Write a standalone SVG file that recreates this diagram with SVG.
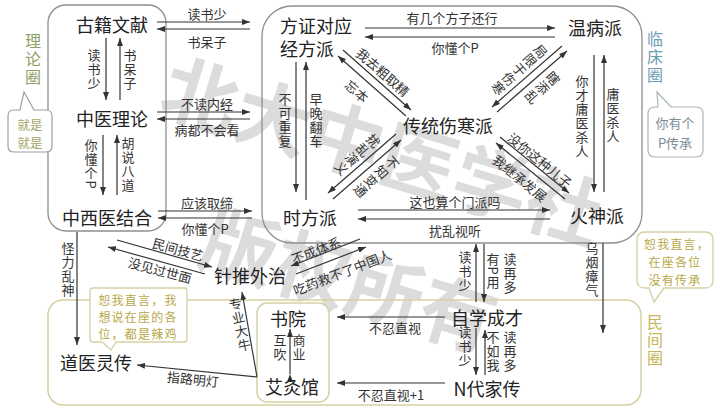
<svg xmlns="http://www.w3.org/2000/svg" width="720" height="408" viewBox="0 0 720 408">
<defs>
<marker id="a" viewBox="0 0 8 6" refX="8" refY="3" markerWidth="8" markerHeight="6" orient="auto" markerUnits="userSpaceOnUse"><path d="M0,0 L8,3 L0,6 Z" fill="#333"/></marker>
<style>
text{font-family:"Noto Sans CJK SC","Noto Sans",sans-serif;dominant-baseline:central;}
.n{font-size:18px;fill:#222;text-anchor:middle;}
.l{font-size:13px;fill:#333;text-anchor:middle;}
.v{font-size:13px;fill:#333;text-anchor:middle;writing-mode:vertical-rl;letter-spacing:1px;}
.ln{stroke:#333;stroke-width:1.2;fill:none;marker-end:url(#a);}
.box{fill:none;stroke:#8f8f8f;stroke-width:1.3;}
.fbox{fill:none;stroke:#d6cfa2;stroke-width:1.5;}
.wm{font-size:76px;font-weight:bold;fill:#dcdcdc;}
.bt{font-size:12px;fill:#b8a745;text-anchor:middle;letter-spacing:1.2px;}
</style>
</defs>
<rect width="720" height="408" fill="#fff"/>
<g id="watermark">
<text class="wm" transform="translate(166,80) rotate(17)">北大中医学社</text>
<text class="wm" transform="translate(205,232) rotate(17)">版权所有</text>
</g>
<g id="areas">
<rect class="box" x="48" y="5" width="118" height="226" rx="18"/>
<rect class="box" x="262" y="6" width="380" height="237" rx="30"/>
<rect class="fbox" x="48" y="300" width="593" height="105" rx="15"/>
<rect class="fbox" x="257" y="303" width="72" height="99" rx="10"/>
<text x="33" y="60" style="font-size:16px;fill:#8fa067;writing-mode:vertical-rl;text-anchor:middle;letter-spacing:2px">理论圈</text>
<text x="655" y="58" style="font-size:16px;fill:#6e9eb2;writing-mode:vertical-rl;text-anchor:middle;letter-spacing:2px">临床圈</text>
<text x="655" y="341" style="font-size:16px;fill:#c6b55a;writing-mode:vertical-rl;text-anchor:middle;letter-spacing:2px">民间圈</text>
</g>
<g id="bubbles">
<path d="M14,110 H20 L24,92 L34,110 H46 Q52,110 52,116 V146 Q52,152 46,152 H14 Q8,152 8,146 V116 Q8,110 14,110 Z" fill="#fff" stroke="#a0a0a0" stroke-width="1.2"/>
<text x="30" y="124" style="font-size:12.5px;fill:#a3a566;text-anchor:middle">就是</text>
<text x="30" y="142" style="font-size:12.5px;fill:#a3a566;text-anchor:middle">就是</text>
<path d="M655,107 H658 L657,92 L671,107 H696 Q703,107 703,114 V150 Q703,157 696,157 H655 Q648,157 648,150 V114 Q648,107 655,107 Z" fill="#fff" stroke="#a9b4b9" stroke-width="1.2"/>
<text x="675" y="122" style="font-size:13px;fill:#7b8d97;text-anchor:middle">你有个</text>
<text x="675" y="142" style="font-size:13px;fill:#7b8d97;text-anchor:middle">P传承</text>
<path d="M645,232 H705 Q713,232 713,240 V280 Q713,288 705,288 H664 L654,302 L649,288 H645 Q637,288 637,280 V240 Q637,232 645,232 Z" fill="#fff" stroke="#d6cfa2" stroke-width="1.3"/>
<text class="bt" x="677" y="243">恕我直言，</text>
<text class="bt" x="675" y="261">在座各位</text>
<text class="bt" x="675" y="279">没有传承</text>
<path d="M93,288 H184 Q187,288 187,291 V339 Q187,342 184,342 H116 L111,350 L102,342 H93 Q90,342 90,339 V291 Q90,288 93,288 Z" fill="#fff" stroke="#d6cfa2" stroke-width="1.3"/>
<text class="bt" x="138" y="299">恕我直言，我</text>
<text class="bt" x="138" y="316">想说在座的各</text>
<text class="bt" x="138" y="333">位，都是辣鸡</text>
</g>
<g id="connectors">
<line class="ln" x1="157" y1="22" x2="250" y2="22"/><text class="l" x="207" y="13">读书少</text>
<line class="ln" x1="250" y1="29" x2="157" y2="29"/><text class="l" x="207" y="41">书呆子</text>
<line class="ln" x1="106" y1="38" x2="106" y2="100"/><text class="v" x="94" y="70">读书少</text>
<line class="ln" x1="120" y1="100" x2="120" y2="38"/><text class="v" x="130" y="70">书呆子</text>
<line class="ln" x1="157" y1="112" x2="250" y2="112"/><text class="l" x="207" y="103">不读内经</text>
<line class="ln" x1="250" y1="119" x2="157" y2="119"/><text class="l" x="207" y="129">病都不会看</text>
<line class="ln" x1="103" y1="135" x2="103" y2="195"/><text class="v" x="91" y="164">你懂个P</text>
<line class="ln" x1="117" y1="195" x2="117" y2="135"/><text class="v" x="128" y="165">胡说八道</text>
<line class="ln" x1="158" y1="211" x2="252" y2="211"/><text class="l" x="207" y="202">应该取缔</text>
<line class="ln" x1="252" y1="218" x2="158" y2="218"/><text class="l" x="205" y="228">你懂个P</text>
<line class="ln" x1="77" y1="232" x2="77" y2="345"/><text class="v" x="68" y="270">怪力乱神</text>
<line class="ln" x1="117" y1="240" x2="212" y2="267"/><text class="l" transform="translate(178,249) rotate(15)">民间技艺</text>
<line class="ln" x1="205" y1="274" x2="108" y2="247"/><text class="l" transform="translate(160,270) rotate(15)">没见过世面</text>
<line class="ln" x1="360" y1="239" x2="291" y2="266"/><text class="l" transform="translate(316,250) rotate(-21)">不成体系</text>
<line class="ln" x1="296" y1="274" x2="366" y2="247"/><text class="l" transform="translate(342,272) rotate(-21)">吃药救不了中国人</text>
<line class="ln" x1="365" y1="28" x2="555" y2="28"/><text class="l" x="452" y="17">有几个方子还行</text>
<line class="ln" x1="555" y1="37" x2="365" y2="37"/><text class="l" x="455" y="47">你懂个P</text>
<line class="ln" x1="343" y1="50" x2="411" y2="110"/><text class="l" transform="translate(383,72) rotate(41)">我去粗取精</text>
<line class="ln" x1="406" y1="116" x2="338" y2="56"/><text class="l" transform="translate(357,91) rotate(41)">忘本</text>
<line class="ln" x1="562" y1="46" x2="492" y2="107"/><text class="v" transform="translate(519,70) rotate(49)">局限于伤寒</text>
<line class="ln" x1="497" y1="112" x2="567" y2="51"/><text class="v" transform="translate(542,88) rotate(49)">瞎添乱</text>
<line class="ln" x1="500" y1="137" x2="569" y2="193"/><text class="l" transform="translate(540,160) rotate(39)">没你这种儿子</text>
<line class="ln" x1="565" y1="199" x2="496" y2="143"/><text class="l" transform="translate(520,178) rotate(39)">我继承发展</text>
<line class="ln" x1="396" y1="134" x2="328" y2="193"/><text class="v" transform="translate(357,155) rotate(49)">扰乱演义</text>
<line class="ln" x1="333" y1="199" x2="401" y2="140"/><text class="v" transform="translate(376,177) rotate(49)">不知变通</text>
<line class="ln" x1="358" y1="210" x2="550" y2="210"/><text class="l" x="455" y="201">这也算个门派吗</text>
<line class="ln" x1="550" y1="219" x2="358" y2="219"/><text class="l" x="455" y="230">扰乱视听</text>
<line class="ln" x1="594" y1="55" x2="594" y2="192"/><text class="v" x="582" y="117">你才庸医杀人</text>
<line class="ln" x1="604" y1="192" x2="604" y2="55"/><text class="v" x="613" y="116">庸医杀人</text>
<line class="ln" x1="296" y1="62" x2="296" y2="192"/><text class="v" x="285" y="121">不可重复</text>
<line class="ln" x1="306" y1="200" x2="306" y2="62"/><text class="v" x="316" y="121">早晚翻车</text>
<line class="ln" x1="476" y1="302" x2="476" y2="244"/><text class="v" x="465" y="272">读书少</text>
<line class="ln" x1="484" y1="244" x2="484" y2="302"/><text class="v" x="493" y="271">有P用</text><text class="v" x="510" y="274">读再多</text>
<line class="ln" x1="476" y1="328" x2="476" y2="375"/><text class="v" x="465" y="347">读书少</text>
<line class="ln" x1="485" y1="375" x2="485" y2="330"/><text class="v" x="493" y="352">不如我</text><text class="v" x="510" y="352">读再多</text>
<line class="ln" x1="603" y1="243" x2="603" y2="333"/><text class="v" x="592" y="270">乌烟瘴气</text>
<line class="ln" x1="445" y1="317" x2="337" y2="317"/><text class="l" x="395" y="327">不忍直视</text>
<line class="ln" x1="445" y1="383" x2="337" y2="383"/><text class="l" x="391" y="394">不忍直视+1</text>
<line class="ln" x1="290" y1="374" x2="290" y2="329" marker-start="url(#a)"/><text class="v" x="280" y="348">互吹</text><text class="v" x="299" y="348">商业</text>
<line class="ln" x1="257" y1="377" x2="242" y2="292"/><text class="v" transform="translate(240,325) rotate(-12)">专业大牛</text>
<line class="ln" x1="257" y1="377" x2="137" y2="365"/><text class="l" transform="translate(193,379) rotate(6)">指路明灯</text>
</g>
<g id="n-gujiwenxian"><text class="n" x="112" y="24">古籍文献</text></g>
<g id="n-zhongyililun"><text class="n" x="112" y="118">中医理论</text></g>
<g id="n-zhongxiyijiehe"><text class="n" x="107" y="217">中西医结合</text></g>
<g id="n-jingfangpai"><text class="n" x="280" y="25" style="text-anchor:start">方证对应</text><text class="n" x="280" y="48" style="text-anchor:start">经方派</text></g>
<g id="n-wenbingpai"><text class="n" x="595" y="27">温病派</text></g>
<g id="n-chuantongshanghanpai"><text class="n" x="448" y="125">传统伤寒派</text></g>
<g id="n-huoshenpai"><text class="n" x="597" y="215">火神派</text></g>
<g id="n-shifangpai"><text class="n" x="310" y="217">时方派</text></g>
<g id="n-zhentuiwaizhi"><text class="n" x="250" y="275">针推外治</text></g>
<g id="n-daoyilingchuan"><text class="n" x="96" y="362">道医灵传</text></g>
<g id="n-shuyuan"><text class="n" x="288" y="318">书院</text></g>
<g id="n-aijiuguan"><text class="n" x="292" y="386">艾灸馆</text></g>
<g id="n-zixuechengcai"><text class="n" x="487" y="317">自学成才</text></g>
<g id="n-ndaijiachuan"><text class="n" x="487" y="388">N代家传</text></g>
</svg>
